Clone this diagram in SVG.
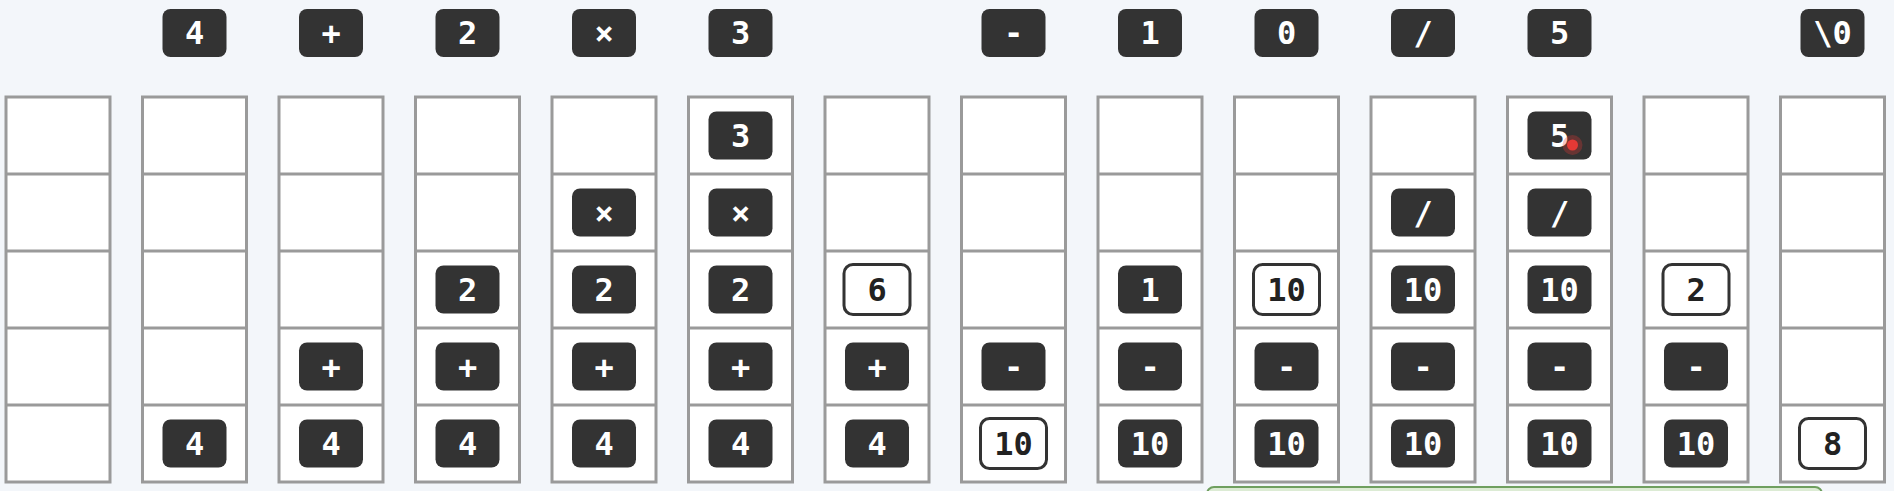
<svg xmlns="http://www.w3.org/2000/svg" xmlns:xlink="http://www.w3.org/1999/xlink" width="1894" height="491" viewBox="0 0 1894 491">
<style>
.bg{fill:#f3f6fa}
.frame{fill:#ffffff;stroke:#9a9a9a;stroke-width:3}
.div{stroke:#9a9a9a;stroke-width:3}
.tok{fill:#333333}
.res{fill:#ffffff;stroke:#333333;stroke-width:3}
.t{font-family:"DejaVu Sans Mono","Liberation Mono",monospace;font-size:32px;font-weight:bold;text-anchor:middle;fill:#ffffff}
.tr{fill:#222222}
</style>
<defs>
<g id="frame">
<rect class="frame" x="-52" y="97" width="104" height="385"/>
<line class="div" x1="-52" y1="174" x2="52" y2="174"/>
<line class="div" x1="-52" y1="251" x2="52" y2="251"/>
<line class="div" x1="-52" y1="328" x2="52" y2="328"/>
<line class="div" x1="-52" y1="405" x2="52" y2="405"/>
</g>
</defs>
<rect class="bg" x="0" y="0" width="1894" height="491"/>

<g id="inputs">
<g id="in-2" transform="translate(194.5,0)"><rect class="tok" x="-32" y="9" width="64" height="48" rx="8"/><text class="t" x="0" y="44">4</text></g>
<g id="in-3" transform="translate(331,0)"><rect class="tok" x="-32" y="9" width="64" height="48" rx="8"/><text class="t" x="0" y="44">+</text></g>
<g id="in-4" transform="translate(467.5,0)"><rect class="tok" x="-32" y="9" width="64" height="48" rx="8"/><text class="t" x="0" y="44">2</text></g>
<g id="in-5" transform="translate(604,0)"><rect class="tok" x="-32" y="9" width="64" height="48" rx="8"/><text class="t" x="0" y="44">×</text></g>
<g id="in-6" transform="translate(740.5,0)"><rect class="tok" x="-32" y="9" width="64" height="48" rx="8"/><text class="t" x="0" y="44">3</text></g>
<g id="in-8" transform="translate(1013.5,0)"><rect class="tok" x="-32" y="9" width="64" height="48" rx="8"/><text class="t" x="0" y="44">-</text></g>
<g id="in-9" transform="translate(1150,0)"><rect class="tok" x="-32" y="9" width="64" height="48" rx="8"/><text class="t" x="0" y="44">1</text></g>
<g id="in-10" transform="translate(1286.5,0)"><rect class="tok" x="-32" y="9" width="64" height="48" rx="8"/><text class="t" x="0" y="44">0</text></g>
<g id="in-11" transform="translate(1423,0)"><rect class="tok" x="-32" y="9" width="64" height="48" rx="8"/><text class="t" x="0" y="44">/</text></g>
<g id="in-12" transform="translate(1559.5,0)"><rect class="tok" x="-32" y="9" width="64" height="48" rx="8"/><text class="t" x="0" y="44">5</text></g>
<g id="in-14" transform="translate(1832.5,0)"><rect class="tok" x="-32" y="9" width="64" height="48" rx="8"/><text class="t" x="0" y="44">\0</text></g>
</g>

<g id="stack-1" transform="translate(58,0)"><use xlink:href="#frame"/></g>

<g id="stack-2" transform="translate(194.5,0)"><use xlink:href="#frame"/>
<rect class="tok" x="-32" y="419.5" width="64" height="48" rx="8"/><text class="t" x="0" y="455">4</text>
</g>

<g id="stack-3" transform="translate(331,0)"><use xlink:href="#frame"/>
<rect class="tok" x="-32" y="342.5" width="64" height="48" rx="8"/><text class="t" x="0" y="378">+</text>
<rect class="tok" x="-32" y="419.5" width="64" height="48" rx="8"/><text class="t" x="0" y="455">4</text>
</g>

<g id="stack-4" transform="translate(467.5,0)"><use xlink:href="#frame"/>
<rect class="tok" x="-32" y="265.5" width="64" height="48" rx="8"/><text class="t" x="0" y="301">2</text>
<rect class="tok" x="-32" y="342.5" width="64" height="48" rx="8"/><text class="t" x="0" y="378">+</text>
<rect class="tok" x="-32" y="419.5" width="64" height="48" rx="8"/><text class="t" x="0" y="455">4</text>
</g>

<g id="stack-5" transform="translate(604,0)"><use xlink:href="#frame"/>
<rect class="tok" x="-32" y="188.5" width="64" height="48" rx="8"/><text class="t" x="0" y="224">×</text>
<rect class="tok" x="-32" y="265.5" width="64" height="48" rx="8"/><text class="t" x="0" y="301">2</text>
<rect class="tok" x="-32" y="342.5" width="64" height="48" rx="8"/><text class="t" x="0" y="378">+</text>
<rect class="tok" x="-32" y="419.5" width="64" height="48" rx="8"/><text class="t" x="0" y="455">4</text>
</g>

<g id="stack-6" transform="translate(740.5,0)"><use xlink:href="#frame"/>
<rect class="tok" x="-32" y="111.5" width="64" height="48" rx="8"/><text class="t" x="0" y="147">3</text>
<rect class="tok" x="-32" y="188.5" width="64" height="48" rx="8"/><text class="t" x="0" y="224">×</text>
<rect class="tok" x="-32" y="265.5" width="64" height="48" rx="8"/><text class="t" x="0" y="301">2</text>
<rect class="tok" x="-32" y="342.5" width="64" height="48" rx="8"/><text class="t" x="0" y="378">+</text>
<rect class="tok" x="-32" y="419.5" width="64" height="48" rx="8"/><text class="t" x="0" y="455">4</text>
</g>

<g id="stack-7" transform="translate(877,0)"><use xlink:href="#frame"/>
<rect class="res" x="-33" y="264.5" width="66" height="50" rx="9"/><text class="t tr" x="0" y="301">6</text>
<rect class="tok" x="-32" y="342.5" width="64" height="48" rx="8"/><text class="t" x="0" y="378">+</text>
<rect class="tok" x="-32" y="419.5" width="64" height="48" rx="8"/><text class="t" x="0" y="455">4</text>
</g>

<g id="stack-8" transform="translate(1013.5,0)"><use xlink:href="#frame"/>
<rect class="tok" x="-32" y="342.5" width="64" height="48" rx="8"/><text class="t" x="0" y="378">-</text>
<rect class="res" x="-33" y="418.5" width="66" height="50" rx="9"/><text class="t tr" x="0" y="455">10</text>
</g>

<g id="stack-9" transform="translate(1150,0)"><use xlink:href="#frame"/>
<rect class="tok" x="-32" y="265.5" width="64" height="48" rx="8"/><text class="t" x="0" y="301">1</text>
<rect class="tok" x="-32" y="342.5" width="64" height="48" rx="8"/><text class="t" x="0" y="378">-</text>
<rect class="tok" x="-32" y="419.5" width="64" height="48" rx="8"/><text class="t" x="0" y="455">10</text>
</g>

<g id="stack-10" transform="translate(1286.5,0)"><use xlink:href="#frame"/>
<rect class="res" x="-33" y="264.5" width="66" height="50" rx="9"/><text class="t tr" x="0" y="301">10</text>
<rect class="tok" x="-32" y="342.5" width="64" height="48" rx="8"/><text class="t" x="0" y="378">-</text>
<rect class="tok" x="-32" y="419.5" width="64" height="48" rx="8"/><text class="t" x="0" y="455">10</text>
</g>

<g id="stack-11" transform="translate(1423,0)"><use xlink:href="#frame"/>
<rect class="tok" x="-32" y="188.5" width="64" height="48" rx="8"/><text class="t" x="0" y="224">/</text>
<rect class="tok" x="-32" y="265.5" width="64" height="48" rx="8"/><text class="t" x="0" y="301">10</text>
<rect class="tok" x="-32" y="342.5" width="64" height="48" rx="8"/><text class="t" x="0" y="378">-</text>
<rect class="tok" x="-32" y="419.5" width="64" height="48" rx="8"/><text class="t" x="0" y="455">10</text>
</g>

<g id="stack-12" transform="translate(1559.5,0)"><use xlink:href="#frame"/>
<rect class="tok" x="-32" y="111.5" width="64" height="48" rx="8"/><text class="t" x="0" y="147">5</text>
<rect class="tok" x="-32" y="188.5" width="64" height="48" rx="8"/><text class="t" x="0" y="224">/</text>
<rect class="tok" x="-32" y="265.5" width="64" height="48" rx="8"/><text class="t" x="0" y="301">10</text>
<rect class="tok" x="-32" y="342.5" width="64" height="48" rx="8"/><text class="t" x="0" y="378">-</text>
<rect class="tok" x="-32" y="419.5" width="64" height="48" rx="8"/><text class="t" x="0" y="455">10</text>
<circle cx="13" cy="145" r="10" fill="#e53935" opacity="0.3"/>
<circle cx="13" cy="145" r="5.5" fill="#e53935"/>
</g>

<g id="stack-13" transform="translate(1696,0)"><use xlink:href="#frame"/>
<rect class="res" x="-33" y="264.5" width="66" height="50" rx="9"/><text class="t tr" x="0" y="301">2</text>
<rect class="tok" x="-32" y="342.5" width="64" height="48" rx="8"/><text class="t" x="0" y="378">-</text>
<rect class="tok" x="-32" y="419.5" width="64" height="48" rx="8"/><text class="t" x="0" y="455">10</text>
</g>

<g id="stack-14" transform="translate(1832.5,0)"><use xlink:href="#frame"/>
<rect class="res" x="-33" y="418.5" width="66" height="50" rx="9"/><text class="t tr" x="0" y="455">8</text>
</g>

<rect id="green-bar" x="1207" y="487" width="615" height="14" rx="7" fill="#dcebd4" stroke="#6f9f5f" stroke-width="2"/>
</svg>
